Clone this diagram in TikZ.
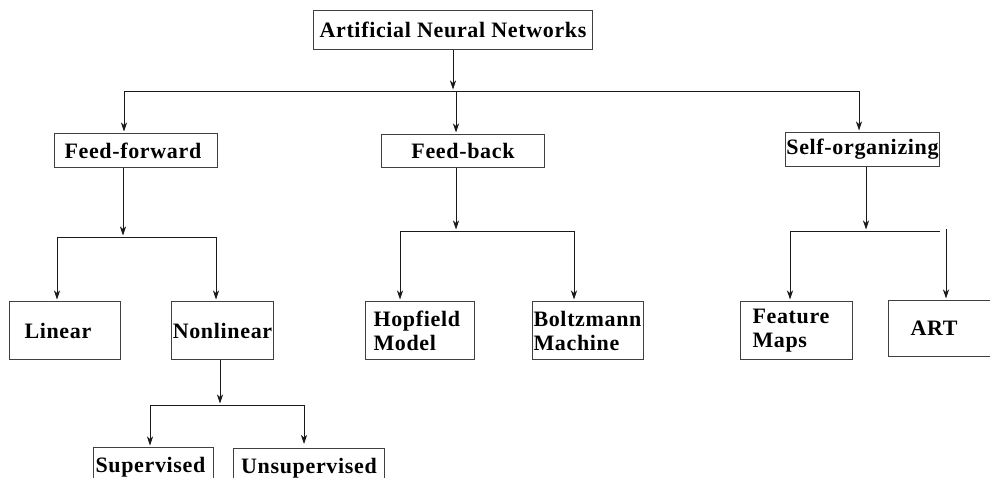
\documentclass[tikz,border=0pt]{standalone}
\usepackage{fontspec}
\setmainfont{Liberation Serif}
\newfontfamily\boxfont[LetterSpace=3]{Liberation Serif}
\usetikzlibrary{arrows.meta}

\begin{document}
\begin{tikzpicture}[x=1pt,y=-1pt,
    box/.style={draw=black!75, line width=1pt, anchor=north west,
      font=\boxfont\fontsize{22}{24}\selectfont\bfseries, align=left, inner ysep=0pt},
    arr/.style={-{Stealth[length=9pt,width=6pt,inset=2.5pt]}, line width=.8pt, draw=black!90, shorten >=1.5pt},
    bus/.style={line width=.8pt, draw=black!90}]
  \path[use as bounding box] (0,0) rectangle (990,477);
  \clip (0,0) rectangle (990,477);

  % boxes
  \node[box, minimum width=279pt, minimum height=39pt, align=center] (ann) at (313,10) {Artificial Neural Networks};
  \node[box, text width=143pt, inner xsep=10pt, minimum height=34pt] (ff) at (54,133) {Feed-forward};
  \node[box, minimum width=163pt, minimum height=33pt, align=center] (fb) at (381,134) {Feed-back};
  \node[box, minimum width=154pt, minimum height=34pt, inner xsep=0pt, align=center] (so) at (785,132) {Self-organizing};
  \node[box, text width=81pt, inner xsep=15pt, minimum height=58pt] (lin) at (9,301) {Linear};
  \node[box, minimum width=102pt, minimum height=58pt, inner xsep=0pt, align=center] (nl) at (171,301) {Nonlinear};
  \node[box, text width=93pt, inner xsep=8pt, minimum height=58pt] (hop) at (365,301) {Hopfield\\Model};
  \node[box, text width=109pt, inner xsep=1pt, minimum height=58pt] (bol) at (532,301) {Boltzmann\\Machine};
  \node[box, text width=88pt, inner xsep=12pt, minimum height=58pt] (fm) at (740,301) {Feature\\Maps};
  \node[box, text width=66pt, inner xsep=22pt, minimum height=56pt] (art) at (888,300) {ART};
  \node[box, text width=116pt, inner xsep=2pt, inner ysep=10pt] (sup) at (93,447) {Supervised};
  \node[box, minimum width=151pt, inner ysep=10pt, align=center] (uns) at (233,448) {Unsupervised};

  % top level
  \coordinate (t0) at (453,91);
  \coordinate (d1) at (124,91);
  \coordinate (d2) at (456,91);
  \coordinate (d3) at (859,91);
  \draw[arr] (ann.south -| t0) -- (t0);
  \draw[bus] (d1) -- (d3);
  \draw[arr] (d1) -- (d1 |- ff.north);
  \draw[arr] (d2) -- (d2 |- fb.north);
  \draw[arr] (d3) -- (d3 |- so.north);

  % feed-forward
  \coordinate (t1) at (123,237);
  \coordinate (l1) at (57,237);
  \coordinate (r1) at (216,237);
  \draw[arr] (ff.south -| t1) -- (t1);
  \draw[bus] (l1) -- (r1);
  \draw[arr] (l1) -- (l1 |- lin.north);
  \draw[arr] (r1) -- (r1 |- nl.north);

  % feed-back
  \coordinate (t2) at (456,231);
  \coordinate (l2) at (400,231);
  \coordinate (r2) at (574,231);
  \draw[arr] (fb.south -| t2) -- (t2);
  \draw[bus] (l2) -- (r2);
  \draw[arr] (l2) -- (l2 |- hop.north);
  \draw[arr] (r2) -- (r2 |- bol.north);

  % self-organizing
  \coordinate (t3) at (866,231);
  \coordinate (l3) at (790,231);
  \coordinate (r3) at (940,231);
  \coordinate (s3) at (946,229);
  \draw[arr] (so.south -| t3) -- (t3);
  \draw[bus] (l3) -- (r3);
  \draw[arr] (l3) -- (l3 |- fm.north);
  \draw[arr] (s3) -- (s3 |- art.north);

  % nonlinear
  \coordinate (t4) at (220,405);
  \coordinate (l4) at (150,405);
  \coordinate (r4) at (304,405);
  \draw[arr] (nl.south -| t4) -- (t4);
  \draw[bus] (l4) -- (r4);
  \draw[arr] (l4) -- (l4 |- sup.north);
  \draw[arr, shorten >=4pt] (r4) -- (r4 |- uns.north);
\end{tikzpicture}
\end{document}
